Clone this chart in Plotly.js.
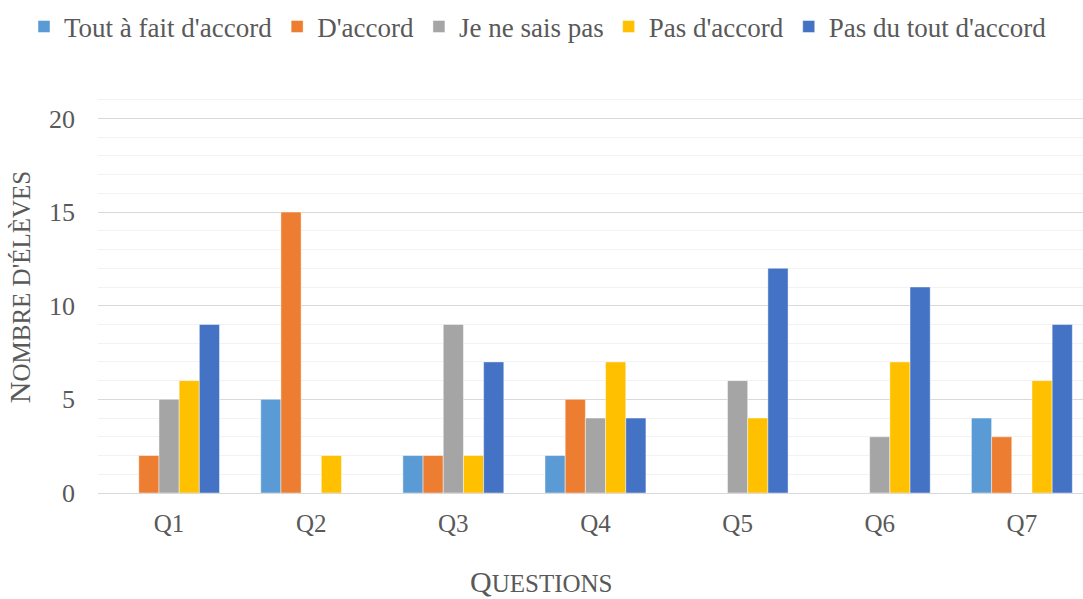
<!DOCTYPE html>
<html>
<head>
<meta charset="utf-8">
<script src="https://cdn.plot.ly/plotly-3.0.1.min.js"></script>
<style>
html,body{margin:0;padding:0;background:#fff;overflow:hidden;}
#chart{width:1083px;height:599px;}
</style>
</head>
<body>
<div id="chart"></div>
<script>
const categories = ["Q1","Q2","Q3","Q4","Q5","Q6","Q7"];
const seriesNames = ["Tout à fait d'accord","D'accord","Je ne sais pas","Pas d'accord","Pas du tout d'accord"];
const toutAFaitDaccord = [0,5,2,2,0,0,4];
const daccord          = [2,15,2,5,0,0,3];
const jeNeSaisPas      = [5,0,9,4,6,3,0];
const pasDaccord       = [6,2,2,7,4,7,6];
const pasDuToutDaccord = [9,0,7,4,12,11,9];
const colors = ["#5B9BD5","#ED7D31","#A5A5A5","#FFC000","#4472C4"];
const yTickVals = [0,5,10,15,20];

const seriesValues = [toutAFaitDaccord, daccord, jeNeSaisPas, pasDaccord, pasDuToutDaccord];
const textColor = "#595959";
const fontFam = "Liberation Serif";
const plotTop = 80.6, plotH = 412.4, plotL = 98, plotW = 985;

const data = seriesValues.map((vals,i)=>({
  type:"bar",
  name:seriesNames[i],
  x:categories,
  y:vals,
  marker:{color:colors[i], line:{color:"rgba(255,255,255,0.45)", width:1}},
  hoverinfo:"x+y+name"
}));

const layout = {
  width:1083, height:599,
  margin:{l:plotL, r:0, t:plotTop, b:106, pad:0, autoexpand:false},
  paper_bgcolor:"#fff", plot_bgcolor:"#fff",
  font:{family:fontFam, color:textColor, size:26},
  barmode:"group", bargap:0.29, bargroupgap:0,
  showlegend:true,
  legend:{
    orientation:"h", xref:"paper", yref:"paper",
    x:(24-plotL)/plotW, xanchor:"left", y:1+(plotTop-2)/plotH, yanchor:"top",
    font:{family:fontFam, size:27, color:textColor},
    itemclick:false, itemdoubleclick:false, traceorder:"normal"
  },
  xaxis:{
    type:"category", range:[-0.5,6.43],
    showgrid:false, zeroline:false, showline:true, linecolor:"#D9D9D9", linewidth:1,
    ticks:"", tickfont:{family:fontFam, size:25, color:textColor},
    ticklabelstandoff:8, fixedrange:true
  },
  yaxis:{
    range:[0,22], tickvals:yTickVals, ticktext:yTickVals.map(String),
    showgrid:true, gridcolor:"#D9D9D9", gridwidth:1,
    minor:{dtick:1, showgrid:true, gridcolor:"#F2F2F2", gridwidth:1},
    zeroline:false, showline:false, ticks:"",
    tickfont:{family:fontFam, size:26, color:textColor},
    ticklabelstandoff:22, fixedrange:true,
    title:{text:"<span style=\"font-size:30px\">N</span>OMBRE D'ÉLÈVES", standoff:11, font:{family:fontFam, size:25, color:textColor}}
  },
  annotations:[{
    xref:"paper", yref:"paper",
    x:(541.5-plotL)/plotW, y:-(582-493)/plotH, xanchor:"center", yanchor:"middle",
    showarrow:false,
    text:"<span style=\"font-size:30px\">Q</span>UESTIONS",
    font:{family:fontFam, size:25, color:textColor}
  }]
};

Plotly.newPlot("chart", data, layout, {displayModeBar:false});
</script>
</body>
</html>
